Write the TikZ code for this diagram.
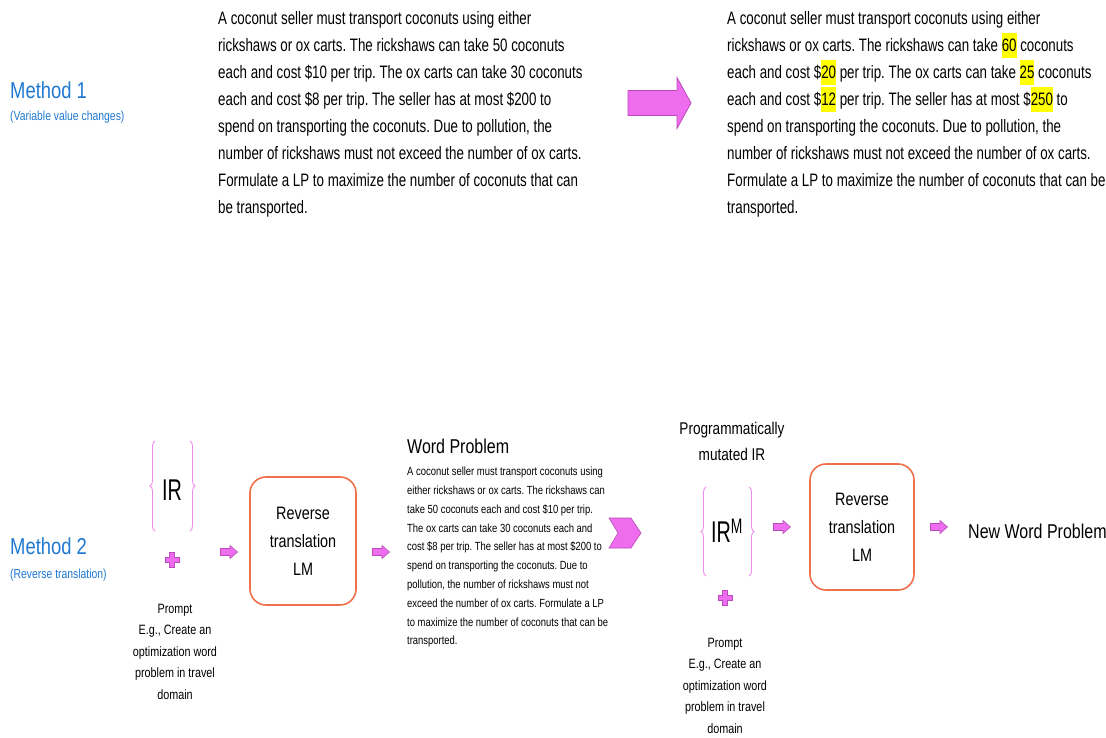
\documentclass[tikz,border=0pt]{standalone}
\usepackage{fontspec}
\setmainfont{Liberation Sans}[FakeStretch=0.8]
\newfontfamily\topfont{Liberation Sans}[FakeStretch=0.74]
\newfontfamily\irfont{Liberation Sans}[FakeStretch=0.66]
\usetikzlibrary{decorations.pathreplacing,calc}
\definecolor{mblue}{HTML}{1F78D1}
\definecolor{pfill}{HTML}{EE6CEE}
\definecolor{pdraw}{HTML}{B94CB9}
\definecolor{bracecol}{HTML}{F08AF0}
\definecolor{obox}{HTML}{F0704C}
\definecolor{hly}{HTML}{FFFF00}
\newcommand\hl[1]{\sbox0{#1}\rlap{\textcolor{hly}{\rule[-6.5pt]{\wd0}{25pt}}}#1}
\frenchspacing
\tikzset{
  para/.style={anchor=north west, align=left, inner sep=0pt, font=\topfont\fontsize{18}{27}\selectfont},
  wpara/.style={anchor=north west, align=left, inner sep=0pt, font=\fontsize{11.8}{18.8}\selectfont},
  prompttxt/.style={anchor=north, align=center, inner sep=0pt, font=\fontsize{13.5}{21.5}\selectfont},
  lmbox/.style={draw=obox, line width=1.6pt, rounded corners=16pt, align=center,
    font=\fontsize{18}{28}\selectfont},
  mlabel/.style={text=mblue, anchor=west, inner sep=0pt, font=\fontsize{23}{28}\selectfont},
  msub/.style={text=mblue, anchor=west, inner sep=0pt, font=\fontsize{13}{16}\selectfont},
  heading/.style={anchor=west, inner sep=0pt, font=\fontsize{20}{24}\selectfont},
  irtxt/.style={inner sep=0pt, font=\irfont\fontsize{30}{34}\selectfont},
  brc/.style={draw=bracecol, line width=0.9pt, decorate, decoration={brace, amplitude=5pt, aspect=0.5}},
  parrow/.pic={\filldraw[fill=pfill, draw=pdraw, line width=0.6pt]
     (-8.5,-3.5) -- (1,-3.5) -- (1,-6.5) -- (8.5,0) -- (1,6.5) -- (1,3.5) -- (-8.5,3.5) -- cycle;},
  bigarrow/.pic={\filldraw[fill=pfill, draw=pdraw, line width=0.8pt]
     (-31.5,-12.5) -- (17.5,-12.5) -- (17.5,-25.5) -- (31.5,0) -- (17.5,25.5) -- (17.5,12.5) -- (-31.5,12.5) -- cycle;},
  pplus/.pic={\filldraw[fill=pfill, draw=pdraw, line width=0.6pt]
     (-2.5,-7.5) -- (2.5,-7.5) -- (2.5,-2.5) -- (7,-2.5) -- (7,2.5) -- (2.5,2.5) -- (2.5,7.5)
     -- (-2.5,7.5) -- (-2.5,2.5) -- (-7,2.5) -- (-7,-2.5) -- (-2.5,-2.5) -- cycle;},
  chev/.pic={\filldraw[fill=pfill, draw=pdraw, line width=0.6pt]
     (-16,-15) -- (6,-15) -- (16,0) -- (6,15) -- (-16,15) -- (-7,0) -- cycle;}
}
\begin{document}
\begin{tikzpicture}[x=1pt,y=-1pt]
\useasboundingbox[fill=white] (0,0) rectangle (1106,738);

% Method 1
\node[mlabel] (m1) at (10,90) {Method 1};
\node[msub] (m1s) at (10,117) {(Variable value changes)};

\node[para] (orig) at (218,11) {A coconut seller must transport coconuts using either\\
rickshaws or ox carts. The rickshaws can take 50 coconuts\\
each and cost \$10 per trip. The ox carts can take 30 coconuts\\
each and cost \$8 per trip. The seller has at most \$200 to\\
spend on transporting the coconuts. Due to pollution, the\\
number of rickshaws must not exceed the number of ox carts.\\
Formulate a LP to maximize the number of coconuts that can\\
be transported.};

\pic at (659.5,103) {bigarrow};

\node[para] (changed) at (727,11) {A coconut seller must transport coconuts using either\\
rickshaws or ox carts. The rickshaws can take \hl{60} coconuts\\
each and cost \$\hl{20} per trip. The ox carts can take \hl{25} coconuts\\
each and cost \$\hl{12} per trip. The seller has at most \$\hl{250} to\\
spend on transporting the coconuts. Due to pollution, the\\
number of rickshaws must not exceed the number of ox carts.\\
Formulate a LP to maximize the number of coconuts that can be\\
transported.};

% Method 2
\node[mlabel] (m2) at (10,546) {Method 2};
\node[msub] (m2s) at (10,575) {(Reverse translation)};

\node[irtxt] (ir) at (172,490) {IR};
\draw[brc] (155,531) -- (155,441);
\draw[brc] (190,441) -- (190,531);
\pic at (172,560) {pplus};
\node[prompttxt] (prompt1) at (175,604) {Prompt\\E.g., Create an\\optimization word\\problem in travel\\domain};

\pic at (229,552) {parrow};
\node[lmbox, minimum width=106pt, minimum height=128pt] (lm1) at (303,541) {Reverse\\translation\\LM};
\pic at (381,552) {parrow};

\node[heading] (wph) at (407,446) {Word Problem};
\node[wpara] (wp) at (407,467) {A coconut seller must transport coconuts using\\
either rickshaws or ox carts. The rickshaws can\\
take 50 coconuts each and cost \$10 per trip.\\
The ox carts can take 30 coconuts each and\\
cost \$8 per trip. The seller has at most \$200 to\\
spend on transporting the coconuts. Due to\\
pollution, the number of rickshaws must not\\
exceed the number of ox carts. Formulate a LP\\
to maximize the number of coconuts that can be\\
transported.};

\pic at (625,533) {chev};

\node[anchor=north, align=center, inner sep=0pt, font=\fontsize{17}{26}\selectfont] (pmt) at (732,422) {Programmatically\\mutated IR};
\node[irtxt] (irm) at (727,531) {IR\textsuperscript{M}};
\draw[brc] (706,576) -- (706,487);
\draw[brc] (749,487) -- (749,576);
\pic at (725,598) {pplus};
\node[prompttxt] (prompt2) at (725,638) {Prompt\\E.g., Create an\\optimization word\\problem in travel\\domain};

\pic at (782,527) {parrow};
\node[lmbox, minimum width=104pt, minimum height=126pt] (lm2) at (862,527) {Reverse\\translation\\LM};
\pic at (939,527) {parrow};
\node[heading] (nwp) at (968,531) {New Word Problem};
\end{tikzpicture}
\end{document}
